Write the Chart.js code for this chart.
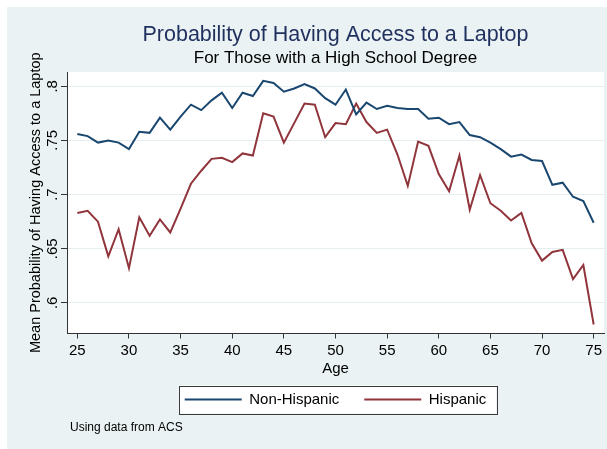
<!DOCTYPE html>
<html>
<head>
<meta charset="utf-8">
<title>Probability of Having Access to a Laptop</title>
<script src="https://cdn.jsdelivr.net/npm/chart.js@4.4.1/dist/chart.umd.min.js"></script>
<style>
  html, body { margin: 0; padding: 0; background: #ffffff; }
  #wrap { width: 607px; height: 449px; position: relative; }
</style>
</head>
<body>
<div id="wrap"><canvas id="myChart"></canvas></div>
<script>
"use strict";

// Ålder (x-axeln)
const ages = [25, 26, 27, 28, 29, 30, 31, 32, 33, 34, 35, 36, 37, 38, 39, 40, 41, 42, 43, 44, 45, 46, 47, 48, 49, 50,
  51, 52, 53, 54, 55, 56, 57, 58, 59, 60, 61, 62, 63, 64, 65, 66, 67, 68, 69, 70, 71, 72, 73, 74, 75];

// Medelsannolikhet per ålder
const nonHispanic = [0.756, 0.754, 0.748, 0.750, 0.748, 0.742, 0.758, 0.757, 0.771, 0.760, 0.772, 0.783, 0.778, 0.787,
  0.794, 0.780, 0.794, 0.791, 0.805, 0.803, 0.795, 0.798, 0.802, 0.798, 0.789, 0.783, 0.797, 0.774, 0.785, 0.779,
  0.782, 0.780, 0.779, 0.779, 0.770, 0.771, 0.765, 0.767, 0.755, 0.753, 0.748, 0.742, 0.735, 0.737, 0.732, 0.731,
  0.709, 0.711, 0.698, 0.694, 0.674];

const hispanic = [0.683, 0.685, 0.675, 0.643, 0.668, 0.632, 0.679, 0.662, 0.677, 0.665, 0.687, 0.710, 0.722, 0.733,
  0.734, 0.730, 0.738, 0.736, 0.775, 0.772, 0.748, 0.766, 0.784, 0.783, 0.753, 0.766, 0.765, 0.784, 0.767, 0.757,
  0.760, 0.737, 0.708, 0.749, 0.745, 0.719, 0.703, 0.736, 0.686, 0.718, 0.692, 0.685, 0.676, 0.683, 0.655, 0.639,
  0.647, 0.649, 0.622, 0.635, 0.580];

// Skalstreck
const xTicks = [25, 30, 35, 40, 45, 50, 55, 60, 65, 70, 75];
const yTicks = [0.6, 0.65, 0.7, 0.75, 0.8];

const seriesNames = ["Non-Hispanic", "Hispanic"];

Chart.defaults.font.family = "'Liberation Sans', Arial, sans-serif";
Chart.defaults.color = "#000000";

//Bakgrunder: grå ram runt, vit plotyta och vit ruta bakom legenden
const backgrounds = {
  id: "backgrounds",
  beforeDraw(chart) {
    const { ctx, chartArea } = chart;
    ctx.save();
    ctx.fillStyle = "#ffffff";
    ctx.fillRect(0, 0, chart.width, chart.height);
    ctx.fillStyle = "#eaf2f3";
    ctx.fillRect(7, 7, chart.width - 7, chart.height - 7);
    ctx.fillStyle = "#ffffff";
    ctx.fillRect(chartArea.left, chartArea.top, chartArea.right - chartArea.left, chartArea.bottom - chartArea.top);

    const boxes = chart.legend.legendHitBoxes;
    if (boxes && boxes.length) {
      const first = boxes[0];
      const last = boxes[boxes.length - 1];
      const cy = first.top + first.height / 2;
      const left = first.left - 6;
      const right = last.left + last.width + 10;
      ctx.fillRect(left, cy - 14, right - left, 28);
      ctx.strokeStyle = "#3a3a3a";
      ctx.lineWidth = 1;
      ctx.strokeRect(Math.round(left) + 0.5, Math.round(cy - 14) + 0.5, Math.round(right - left), 28);
    }
    ctx.restore();
  }
};

//Källtext längst ner
const note = {
  id: "note",
  afterDraw(chart) {
    const { ctx } = chart;
    ctx.save();
    ctx.font = "12px 'Liberation Sans', Arial, sans-serif";
    ctx.fillStyle = "#000000";
    ctx.textBaseline = "middle";
    ctx.fillText("Using data from ACS", 70, 428);
    ctx.restore();
  }
};

const ctx = document.getElementById("myChart");

new Chart(ctx, {
  type: "line",
  data: {
    datasets: [
      {
        label: seriesNames[0],
        data: nonHispanic.map((v, i) => ({ x: ages[i], y: v })),
        borderColor: "#1a476f",
        backgroundColor: "#1a476f",
        borderWidth: 2,
        pointRadius: 0,
        tension: 0
      },
      {
        label: seriesNames[1],
        data: hispanic.map((v, i) => ({ x: ages[i], y: v })),
        borderColor: "#90353b",
        backgroundColor: "#90353b",
        borderWidth: 2,
        pointRadius: 0,
        tension: 0
      }
    ]
  },
  options: {
    responsive: true,
    maintainAspectRatio: false,
    animation: false,
    layout: { padding: { left: 7, top: 7, right: 3, bottom: 32 } },
    scales: {
      x: {
        type: "linear",
        min: 24,
        max: 76,
        afterBuildTicks: scale => { scale.ticks = xTicks.map(v => ({ value: v })); },
        afterFit: scale => { scale.height = 33.5; },
        border: { display: true, color: "#333333", width: 1 },
        grid: { drawOnChartArea: false, tickLength: 5, tickColor: "#333333" },
        ticks: { font: { size: 15 }, padding: 3, maxRotation: 0, color: "#000000" },
        title: { display: true, text: "Age", font: { size: 15 }, padding: { top: 0, bottom: -10.5 }, color: "#000000" }
      },
      y: {
        min: 0.5717,
        max: 0.8132,
        afterBuildTicks: scale => { scale.ticks = yTicks.map(v => ({ value: v })); },
        afterFit: scale => { scale.width = 60; },
        border: { display: true, color: "#333333", width: 1 },
        grid: { color: "#e6eef0", lineWidth: 1, tickLength: 6, tickColor: "#333333" },
        ticks: {
          font: { size: 15 },
          minRotation: 90,
          maxRotation: 90,
          crossAlign: "center",
          padding: -2,
          color: "#000000",
          callback: value => String(value).replace(/^0/, "")
        },
        title: {
          display: true,
          text: "Mean Probability of Having Access to a Laptop",
          font: { size: 14.5 },
          padding: { top: 20.3, bottom: 0 },
          color: "#000000"
        }
      }
    },
    plugins: {
      title: {
        display: true,
        fullSize: false,
        text: "Probability of Having Access to a Laptop",
        color: "#1f2f5e",
        font: { size: 21.5, weight: "normal" },
        padding: { top: 15, bottom: 0 }
      },
      subtitle: {
        display: true,
        fullSize: false,
        text: "For Those with a High School Degree",
        color: "#000000",
        font: { size: 17 },
        padding: { top: 0, bottom: 3.8 }
      },
      legend: {
        position: "bottom",
        fullSize: false,
        labels: {
          usePointStyle: true,
          pointStyle: "line",
          pointStyleWidth: 57,
          font: { size: 15 },
          color: "#000000",
          padding: 25
        }
      },
      tooltip: { enabled: false }
    }
  },
  plugins: [backgrounds, note]
});
</script>
</body>
</html>
